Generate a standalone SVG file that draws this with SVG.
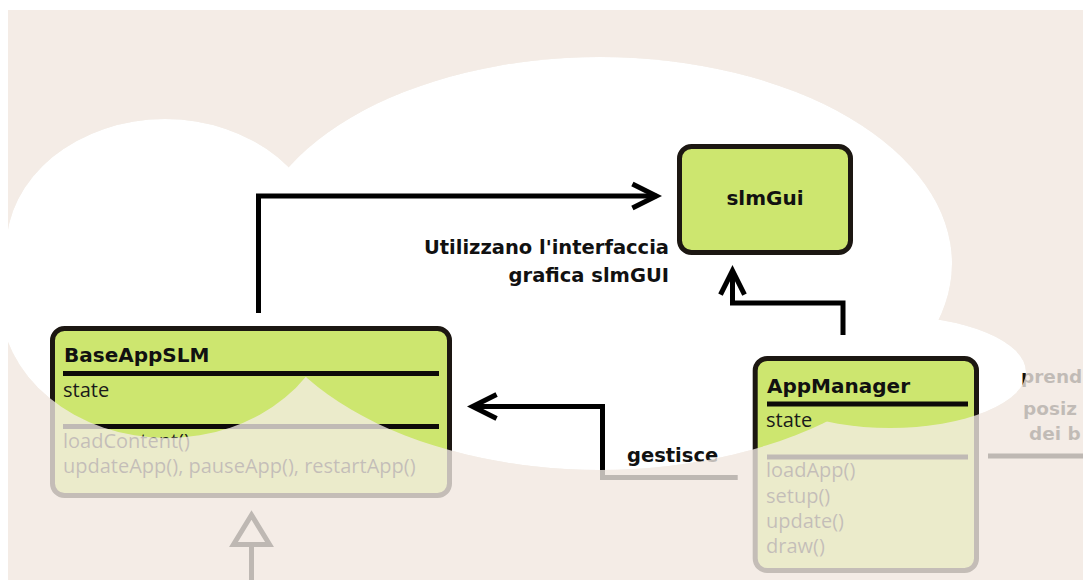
<svg xmlns="http://www.w3.org/2000/svg" width="1083" height="580" viewBox="0 0 1083 580">
  <style>
    .bg { fill: #f3ece6; }
    .cloud { fill: #ffffff; }
    .box { fill: #cde66f; stroke: #1c1712; stroke-width: 5; }
    .sep { stroke: #0d0b09; stroke-width: 5; }
    .title { font-family: "DejaVu Sans", sans-serif; font-weight: bold; font-size: 20px; fill: #111111; }
    .member { font-family: "Open Sans", sans-serif; font-size: 20px; fill: #1a1a1a; }
    .label { font-family: "DejaVu Sans", sans-serif; font-weight: bold; font-size: 19.5px; fill: #111111; }
    .edge-note { font-size: 18.5px; }
    .wire { fill: none; stroke: #000000; stroke-width: 5; stroke-linejoin: miter; }
    .arrow { marker-end: url(#open-arrow); }
  </style>
  <defs>
    <!-- cloud outline built from overlapping lobes -->
    <g id="cloud-lobes">
      <ellipse cx="165" cy="249" rx="159" ry="130"/>
      <ellipse cx="600" cy="263.5" rx="352" ry="206.5"/>
      <ellipse cx="890" cy="372" rx="136" ry="56"/>
      <ellipse cx="167" cy="300" rx="167" ry="138"/>
    </g>
    <mask id="outside-cloud" maskUnits="userSpaceOnUse" x="0" y="0" width="1083" height="580">
      <rect width="1083" height="580" fill="#ffffff"/>
      <use href="#cloud-lobes" fill="#000000"/>
    </mask>
    <marker id="open-arrow" markerUnits="userSpaceOnUse" markerWidth="40" markerHeight="40" viewBox="-30 -20 40 40" refX="0" refY="0" orient="auto" overflow="visible">
      <path d="M-24,-12 L0,0 L-24,12" fill="none" stroke="#000000" stroke-width="5" stroke-linejoin="miter"/>
    </marker>
  </defs>

  <!-- backdrop -->
  <rect class="bg" width="1083" height="580"/>
  <use href="#cloud-lobes" class="cloud"/>

  <!-- connectors -->
  <g id="connectors">
    <path class="wire arrow" d="M258.5,313 V196 H656.4"/>
    <path class="wire arrow" d="M843,335 V303 H732.5 V270.6"/>
    <path class="wire arrow" d="M737.7,477.5 H602.5 V406.5 H472.6"/>
    <path class="wire" d="M988,456 H1083"/>
    <path class="wire" d="M251.5,580 V544.5"/>
    <polygon class="wire" points="251.5,515 233.5,544.5 269.5,544.5"/>
  </g>

  <g id="connector-labels">
    <text class="label" x="669" y="254" text-anchor="end">Utilizzano l'interfaccia</text>
    <text class="label" x="669" y="282" text-anchor="end">grafica slmGUI</text>
    <text class="label" x="627" y="462">gestisce</text>
    <text class="label edge-note" x="1021" y="383">prend</text>
    <text class="label edge-note" x="1023" y="415">posiz</text>
    <text class="label edge-note" x="1029" y="440">dei b</text>
  </g>

  <!-- nodes -->
  <g id="slmGui">
    <rect class="box" x="679.5" y="146.5" width="171" height="106" rx="12"/>
    <text class="title" x="765" y="205" text-anchor="middle">slmGui</text>
  </g>

  <g id="BaseAppSLM">
    <rect class="box" x="52.5" y="328.5" width="397" height="167" rx="12"/>
    <text class="title" x="64" y="362">BaseAppSLM</text>
    <line class="sep" x1="63" y1="373.5" x2="439" y2="373.5"/>
    <text class="member" x="63" y="397">state</text>
    <line class="sep" x1="63" y1="426.5" x2="439" y2="426.5"/>
    <text class="member" x="63" y="448">loadContent()</text>
    <text class="member" x="63" y="473">updateApp(), pauseApp(), restartApp()</text>
  </g>

  <g id="AppManager">
    <rect class="box" x="755.2" y="358.5" width="221.3" height="212" rx="12"/>
    <text class="title" x="767" y="393">AppManager</text>
    <line class="sep" x1="767" y1="404" x2="968" y2="404"/>
    <text class="member" x="766" y="427">state</text>
    <line class="sep" x1="767" y1="457" x2="968" y2="457"/>
    <text class="member" x="766" y="477">loadApp()</text>
    <text class="member" x="766" y="502.5">setup()</text>
    <text class="member" x="766" y="528">update()</text>
    <text class="member" x="766" y="553">draw()</text>
  </g>

  <!-- beige haze over everything outside the cloud -->
  <rect width="1083" height="580" fill="#f3ece6" fill-opacity="0.78" mask="url(#outside-cloud)"/>

  <!-- page margins -->
  <rect width="1083" height="10" fill="#ffffff"/>
  <rect width="8" height="580" fill="#ffffff"/>
</svg>
